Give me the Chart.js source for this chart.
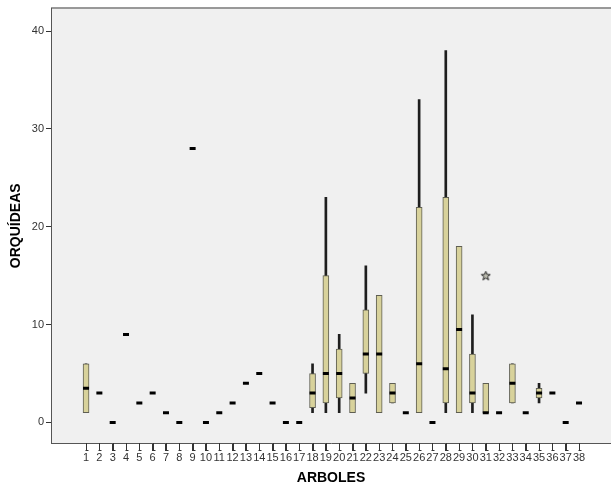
<!DOCTYPE html>
<html>
<head>
<meta charset="utf-8">
<script src="https://cdn.jsdelivr.net/npm/chart.js@4"></script>
<style>
  body { margin: 0; background: #fff; overflow: hidden; }
  canvas { display: block; }
</style>
</head>
<body>
<canvas id="myChart" width="611" height="495"></canvas>
<script>
// arboles 1..38
var arboles = [1,2,3,4,5,6,7,8,9,10,11,12,13,14,15,16,17,18,19,20,21,22,23,24,25,26,27,28,29,30,31,32,33,34,35,36,37,38];
// box: primer cuartil, mediana, tercer cuartil
var q1 =      [1,3,0,9,2,3,1,0,28,0,1,2,4,5,2,0,0,1.5,2,2.5,1,5,1,2,1,1,0,2,1,2,1,1,2,1,2.5,3,0,2];
var mediana = [3.5,3,0,9,2,3,1,0,28,0,1,2,4,5,2,0,0,3,5,5,2.5,7,7,3,1,6,0,5.5,9.5,3,1,1,4,1,3,3,0,2];
var q3 =      [6,3,0,9,2,3,1,0,28,0,1,2,4,5,2,0,0,5,15,7.5,4,11.5,13,4,1,22,0,23,18,7,4,1,6,1,3.5,3,0,2];
// bigotes
var minimo =  [1,3,0,9,2,3,1,0,28,0,1,2,4,5,2,0,0,1,1,1,1,3,1,2,1,1,0,1,1,1,1,1,2,1,2,3,0,2];
var maximo =  [6,3,0,9,2,3,1,0,28,0,1,2,4,5,2,0,0,6,23,9,4,16,13,4,1,33,0,38,18,11,4,1,6,1,4,3,0,2];
// valores extremos
var extremosX = [31];
var extremosY = [15];

var ctx = document.getElementById("myChart").getContext("2d");

var bigotes = [], cajas = [], medianas = [], extremos = [];
arboles.forEach(function (a, i) {
  if (maximo[i] > minimo[i]) bigotes.push({ x: a, y: [minimo[i], maximo[i]] });
  if (q3[i] > q1[i]) cajas.push({ x: a, y: [q1[i], q3[i]] });
  medianas.push({ x: a, y: mediana[i] });
});
extremosX.forEach(function (a, i) {
  extremos.push({ x: a, y: extremosY[i] });
});

// estrella para valores extremos
var estrella = document.createElement("canvas");
estrella.width = 11;
estrella.height = 11;
var sctx = estrella.getContext("2d");
sctx.beginPath();
for (var k = 0; k < 10; k++) {
  var r = k % 2 === 0 ? 4.8 : 2;
  var ang = -Math.PI / 2 + k * Math.PI / 5;
  var px = 5.5 + r * Math.cos(ang), py = 5.8 + r * Math.sin(ang);
  if (k === 0) sctx.moveTo(px, py); else sctx.lineTo(px, py);
}
sctx.closePath();
sctx.fillStyle = "#bdbdb0";
sctx.fill();
sctx.strokeStyle = "#222";
sctx.lineWidth = 1;
sctx.stroke();

var fondo = {
  id: "fondo",
  beforeDraw: function (chart) {
    var a = chart.chartArea;
    var c = chart.ctx;
    c.save();
    c.fillStyle = "#f0f0f0";
    c.fillRect(a.left, a.top, a.right - a.left, a.bottom - a.top);
    c.strokeStyle = "#777";
    c.lineWidth = 1.5;
    c.beginPath();
    c.moveTo(a.left, a.top - 0.5);
    c.lineTo(a.right, a.top - 0.5);
    c.stroke();
    c.restore();
  },
  // marcas del eje x
  afterDraw: function (chart) {
    var xs = chart.scales.x;
    var c = chart.ctx;
    var y0 = chart.chartArea.bottom;
    c.save();
    c.strokeStyle = "#333";
    c.lineWidth = 1;
    c.beginPath();
    arboles.forEach(function (a) {
      var px = Math.round(xs.getPixelForValue(a)) + 0.5;
      c.moveTo(px, y0);
      c.lineTo(px, y0 + 8);
      c.moveTo(px - 1, y0 + 7.5);
      c.lineTo(px + 2, y0 + 7.5);
    });
    c.stroke();
    c.restore();
  }
};

var fuente = "'Liberation Sans', Arial, sans-serif";

var myChart = new Chart(ctx, {
  type: "bar",
  data: {
    datasets: [
      {
        label: "bigotes",
        data: bigotes,
        backgroundColor: "#1e1e1e",
        borderWidth: 0,
        barThickness: 2,
        grouped: false,
        order: 3
      },
      {
        label: "cajas",
        data: cajas,
        backgroundColor: "#d8d29b",
        borderColor: "#5e5e52",
        borderWidth: 1,
        borderSkipped: false,
        barThickness: 6,
        grouped: false,
        order: 2
      },
      {
        type: "scatter",
        label: "medianas",
        data: medianas,
        pointStyle: "line",
        radius: 3,
        borderWidth: 3,
        borderColor: "#000",
        backgroundColor: "#000",
        order: 1
      },
      {
        type: "scatter",
        label: "extremos",
        data: extremos,
        pointStyle: estrella,
        order: 0
      }
    ]
  },
  plugins: [fondo],
  options: {
    responsive: false,
    animation: false,
    layout: { autoPadding: false, padding: { top: 4, right: 0, bottom: 0, left: 0 } },
    plugins: {
      legend: { display: false },
      tooltip: { enabled: false }
    },
    scales: {
      x: {
        type: "linear",
        min: -1.63,
        max: 40.4,
        offset: false,
        afterFit: function (scale) {
          scale.height = 52;
          scale.paddingLeft = 0;
          scale.paddingRight = 0;
        },
        afterBuildTicks: function (scale) {
          scale.ticks = arboles.map(function (a) { return { value: a }; });
        },
        grid: { offset: false, drawOnChartArea: false, drawTicks: true, tickLength: 8, tickColor: "#333", color: "#333", lineWidth: 1 },
        border: { display: true, color: "#555", width: 1 },
        ticks: {
          autoSkip: false,
          maxRotation: 0,
          padding: 0,
          color: "#333",
          font: { family: fuente, size: 11 },
          callback: function (v) { return String(v); }
        },
        title: {
          display: true,
          text: "ARBOLES",
          color: "#000",
          padding: { top: 0, bottom: 8 },
          font: { family: fuente, size: 14, weight: "bold" }
        }
      },
      y: {
        min: -2.1,
        max: 42.3,
        afterFit: function (scale) { scale.width = 51; },
        afterBuildTicks: function (scale) {
          scale.ticks = [0, 10, 20, 30, 40].map(function (v) { return { value: v }; });
        },
        grid: { drawOnChartArea: false, drawTicks: true, tickLength: 5, tickColor: "#333", color: "#333", lineWidth: 1 },
        border: { display: true, color: "#555", width: 1 },
        ticks: {
          padding: 2,
          color: "#333",
          font: { family: fuente, size: 11 }
        },
        title: {
          display: true,
          text: "ORQUÍDEAS",
          color: "#000",
          padding: { top: 8, bottom: 0 },
          font: { family: fuente, size: 14, weight: "bold" }
        }
      }
    }
  }
});
</script>
</body>
</html>
